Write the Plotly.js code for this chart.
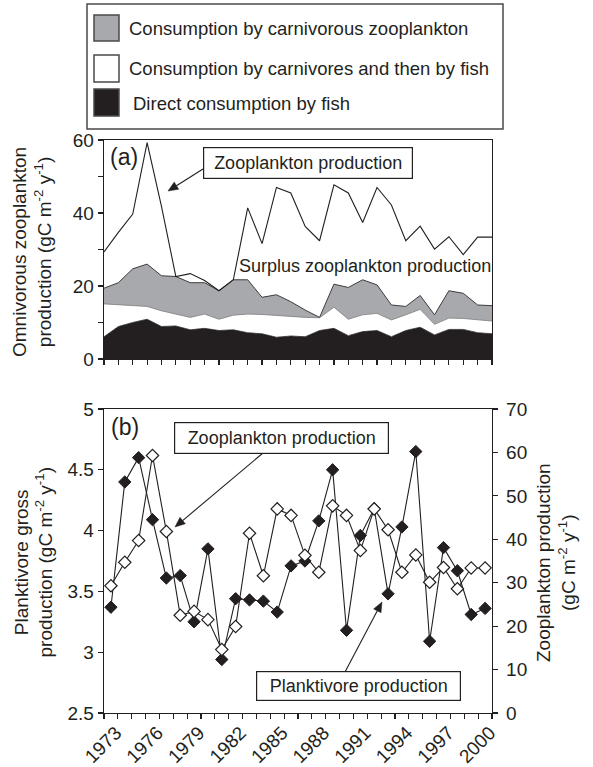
<!DOCTYPE html>
<html>
<head>
<meta charset="utf-8">
<script src="https://cdn.plot.ly/plotly-3.0.1.min.js"></script>
<style>html,body{margin:0;padding:0;background:#fff;}#chart{width:593px;height:767px;}</style>
</head>
<body>
<div id="chart"></div>
<script>
// ---------- DATA ----------
const years = [1973,1974,1975,1976,1977,1978,1979,1980,1981,1982,1983,1984,1985,1986,
               1987,1988,1989,1990,1991,1992,1993,1994,1995,1996,1997,1998,1999,2000];

// Panel (a): stacked components (gC m-2 y-1)
const directFish   = [6.1,8.9,10.0,10.9,8.9,9.05,8.0,8.4,7.8,8.0,7.2,6.9,5.95,6.3,
                      6.1,7.8,8.4,6.4,7.5,7.8,6.1,7.8,8.7,6.6,8.1,8.1,7.2,6.9];
const carnThenFish = [9.0,5.9,4.6,3.5,4.3,3.25,3.4,3.9,3.1,4.0,5.1,5.3,5.95,5.4,
                      5.3,3.5,5.8,4.5,4.6,4.7,4.6,4.3,4.9,2.9,3.1,3.0,3.5,3.5];
const carnZoo      = [4.3,6.1,10.1,11.6,9.6,10.3,9.5,8.6,7.8,9.7,9.4,4.7,5.7,4.0,
                      2.0,0.1,6.3,8.7,9.6,7.8,4.1,2.3,3.8,2.6,7.5,6.9,4.1,4.2];
// Panel (a): zooplankton production line
const zooProdA     = [29.3,34.7,39.7,59.3,41.8,22.6,23.4,21.5,18.7,21.7,41.4,31.6,47.0,45.5,
                      36.3,32.4,47.7,45.5,37.4,47.0,42.2,32.4,36.4,30.1,33.5,28.6,33.4,33.4];

// Panel (b)
const planktivore  = [3.37,4.40,4.60,4.09,3.61,3.63,3.25,3.85,2.94,3.44,3.43,3.42,3.33,3.71,
                      3.75,4.08,4.50,3.18,3.96,4.18,3.48,4.03,4.65,3.09,3.86,3.67,3.31,3.36];
const zooProdB     = [29.3,34.7,39.7,59.3,41.8,22.5,23.4,21.5,14.6,19.9,41.4,31.6,47.0,45.5,
                      36.3,32.4,47.7,45.5,37.4,47.0,42.2,32.4,36.4,30.1,33.5,28.6,33.4,33.4];

const yearLabels   = ["1973","1976","1979","1982","1985","1988","1991","1994","1997","2000"];
const yearLabelVals= [1973,1976,1979,1982,1985,1988,1991,1994,1997,2000];

const legendLabels = ["Consumption by carnivorous zooplankton",
                      "Consumption by carnivores and then by fish",
                      "Direct consumption by fish"];

// ---------- STYLE ----------
const W = 593, H = 767;
const px = x => x / W;
const py = y => 1 - y / H;
const INK = '#231f20';
const GREY = '#a7a9ac';
const FONT = 'Liberation Sans, Arial, sans-serif';

const traces = [
  {x: years, y: directFish, type:'scatter', mode:'lines', stackgroup:'a', xaxis:'x', yaxis:'y',
   line:{color:INK, width:0.8}, fillcolor:INK, showlegend:false, hoverinfo:'skip'},
  {x: years, y: carnThenFish, type:'scatter', mode:'lines', stackgroup:'a', xaxis:'x', yaxis:'y',
   line:{color:'#7d7d7f', width:0.8}, fillcolor:'#ffffff', showlegend:false, hoverinfo:'skip'},
  {x: years, y: carnZoo, type:'scatter', mode:'lines', stackgroup:'a', xaxis:'x', yaxis:'y',
   line:{color:'#3c3c3e', width:1}, fillcolor:GREY, showlegend:false, hoverinfo:'skip'},
  {x: years, y: zooProdA, type:'scatter', mode:'lines', xaxis:'x', yaxis:'y',
   line:{color:INK, width:1.1}, showlegend:false, hoverinfo:'skip'},
  {x: years, y: planktivore, type:'scatter', mode:'lines+markers', xaxis:'x2', yaxis:'y2',
   line:{color:INK, width:1.1},
   marker:{symbol:'diamond', size:9.5, color:INK, line:{color:INK, width:1}},
   showlegend:false, hoverinfo:'skip'},
  {x: years, y: zooProdB, type:'scatter', mode:'lines+markers', xaxis:'x2', yaxis:'y3',
   line:{color:INK, width:1.1},
   marker:{symbol:'diamond', size:9.5, color:'#ffffff', line:{color:INK, width:1.2}},
   showlegend:false, hoverinfo:'skip'}
];

const tickFont = {family:FONT, size:19, color:INK};
const axisCommon = {showgrid:false, zeroline:false, showline:true, linecolor:INK, linewidth:1.3,
                    tickcolor:INK, tickwidth:1.2, ticklen:5, ticks:'outside', tickfont:tickFont};

const minorVals = [];
for (let i = 0; i <= years.length; i++) minorVals.push(years[0] - 0.5 + i);

const xd = [px(104), px(492)];

const annText = (text, x, y, size, extra) => Object.assign({
  xref:'paper', yref:'paper', x:px(x), y:py(y), text:text, showarrow:false,
  font:{family:FONT, size:size, color:INK}, xanchor:'center', yanchor:'middle'}, extra || {});

const annotations = [
  annText('(a)', 124, 157, 23),
  annText('(b)', 125, 427, 23),
  annText('Surplus zooplankton production', 365, 266, 18),
  annText('Zooplankton production', 308, 162.5, 18,
          {bordercolor:INK, borderwidth:1.2, borderpad:2, bgcolor:'#fff', width:204, height:26}),
  annText('Zooplankton production', 281.5, 438, 18,
          {bordercolor:INK, borderwidth:1.2, borderpad:2, bgcolor:'#fff', width:209, height:26}),
  annText('Planktivore production', 358.5, 686, 18,
          {bordercolor:INK, borderwidth:1.2, borderpad:2, bgcolor:'#fff', width:199, height:24}),
  // axis titles
  annText('Omnivorous zooplankton<br>production (gC m<sup>-2</sup> y<sup>-1</sup>)', 32, 252, 19, {textangle:-90}),
  annText('Planktivore gross<br>production (gC m<sup>-2</sup> y<sup>-1</sup>)', 33.5, 562, 19, {textangle:-90}),
  annText('Zooplankton production<br>(gC m<sup>-2</sup> y<sup>-1</sup>)', 556, 563, 19, {textangle:-90}),
  // legend texts
  annText(legendLabels[0], 127, 28.5, 18.5, {xanchor:'left'}),
  annText(legendLabels[1], 127, 68.5, 18.5, {xanchor:'left'}),
  annText(legendLabels[2], 131, 103.5, 18.5, {xanchor:'left'})
];

const rect = (x0,y0,x1,y1,fill,lineCol,lw) => ({type:'rect', xref:'paper', yref:'paper',
  x0:px(x0), x1:px(x1), y0:py(y0), y1:py(y1), fillcolor:fill, line:{color:lineCol, width:lw}});

// arrow (tail -> head) as a line plus a filled triangular head, in page pixels
const arrow = (tx, ty, hx, hy) => {
  const dx = hx - tx, dy = hy - ty, len = Math.hypot(dx, dy);
  const ux = dx / len, uy = dy / len, nx = -uy, ny = ux;
  const L = 10, w = 4.2;
  const bx = hx - L * ux, by = hy - L * uy;
  const pt = (x, y) => px(x).toFixed(5) + ',' + py(y).toFixed(5);
  return [
    {type:'line', xref:'paper', yref:'paper', x0:px(tx), y0:py(ty), x1:px(bx), y1:py(by),
     line:{color:INK, width:1.1}},
    {type:'path', xref:'paper', yref:'paper',
     path:'M' + pt(hx, hy) + ' L' + pt(bx + w*nx, by + w*ny) + ' L' + pt(bx - w*nx, by - w*ny) + ' Z',
     fillcolor:INK, line:{color:INK, width:0.5}}
  ];
};

const shapes = [
  rect(87,4,503,129,'rgba(0,0,0,0)','#4a4a4c',1.5),
  rect(94,15,119,41,GREY,'#4a4a4c',1.5),
  rect(94,55,119,82,'#ffffff','#4a4a4c',1.5),
  rect(94,89,119,116,INK,'#4a4a4c',1.5),
  ...arrow(203, 169, 168, 191),
  ...arrow(263, 453, 175, 527),
  ...arrow(345, 672, 382, 602)
];

const layout = {
  width:W, height:H, margin:{l:0,r:0,t:0,b:0}, paper_bgcolor:'#fff', plot_bgcolor:'#fff',
  showlegend:false, font:{family:FONT, color:INK},
  xaxis: Object.assign({}, axisCommon, {domain:xd, anchor:'y', range:[1973,2000], tickvals:years,
          showticklabels:false, mirror:true}),
  yaxis: Object.assign({}, axisCommon, {domain:[py(359), py(140)], anchor:'x', range:[0,60],
          tickvals:[0,20,40,60], ticktext:['0','20','40','60'], mirror:true,
          minor:{tickvals:[10,30,50], ticks:'outside', ticklen:5, tickcolor:INK, tickwidth:1.2}}),
  xaxis2: Object.assign({}, axisCommon, {domain:xd, anchor:'y2', range:[1972.5,2000.5],
          tickvals:yearLabelVals, ticktext:yearLabels, tickangle:-45, ticks:'', mirror:true,
          ticklabelshift:5,
          minor:{tickvals:minorVals, ticks:'outside', ticklen:5, tickcolor:INK, tickwidth:1.2}}),
  yaxis2: Object.assign({}, axisCommon, {domain:[py(713), py(409)], anchor:'x2', range:[2.5,5],
          tickvals:[2.5,3,3.5,4,4.5,5], ticktext:['2.5','3','3.5','4','4.5','5']}),
  yaxis3: Object.assign({}, axisCommon, {overlaying:'y2', side:'right', anchor:'x2', range:[0,70],
          tickvals:[0,10,20,30,40,50,60,70], ticklabelstandoff:4}),
  annotations: annotations,
  shapes: shapes
};

Plotly.newPlot('chart', traces, layout, {staticPlot:true, displayModeBar:false});
</script>
</body>
</html>
